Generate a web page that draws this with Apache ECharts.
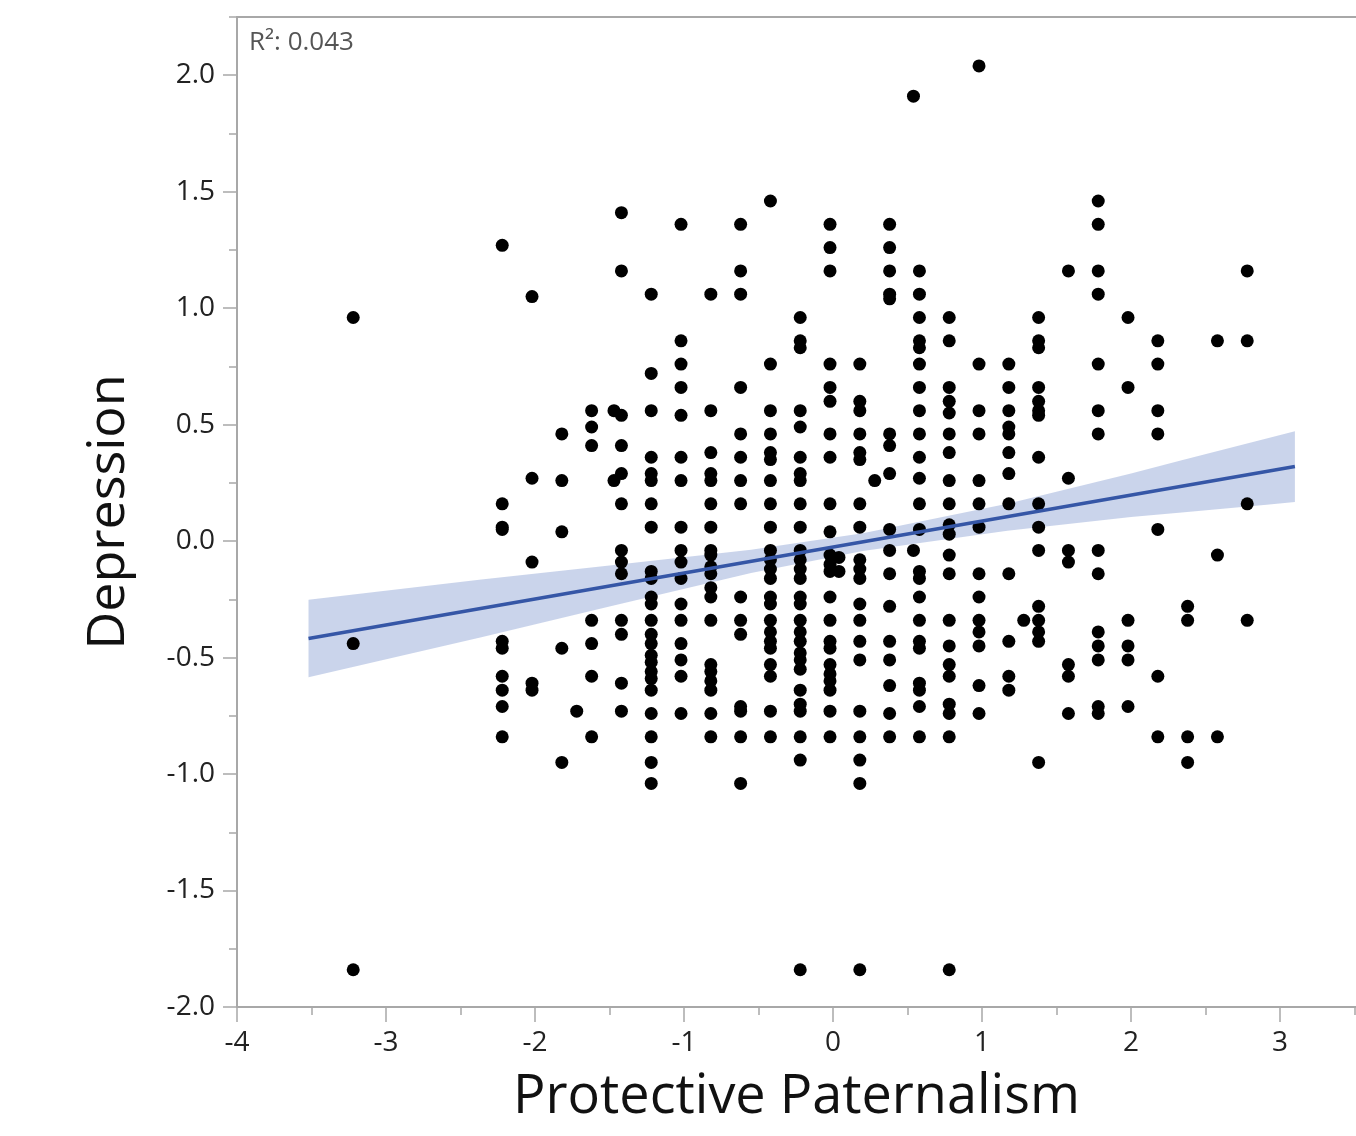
<!DOCTYPE html>
<html>
<head>
<meta charset="utf-8">
<script src="https://cdn.jsdelivr.net/npm/echarts@6/dist/echarts.min.js"></script>
<style>
  html, body { margin: 0; padding: 0; background: #fff; }
  #main { width: 1356px; height: 1136px; }
</style>
</head>
<body>
<div id="main"></div>
<script>
// values
var columnX = [-3.22, -2.22, -2.02, -1.82, -1.62, -1.42, -1.22, -1.02, -0.82, -0.62, -0.42, -0.22, -0.02,
  0.18, 0.38, 0.58, 0.78, 0.98, 1.18, 1.38, 1.58, 1.78, 1.98, 2.18, 2.38, 2.58, 2.78];

var columnDepression = [
  [0.96, -0.44, -1.84],
  [1.27, 0.16, 0.06, 0.05, -0.43, -0.46, -0.58, -0.64, -0.71, -0.84],
  [1.05, 0.27, -0.09, -0.61, -0.64],
  [0.46, 0.26, 0.04, -0.46, -0.95],
  [0.56, 0.49, 0.41, -0.34, -0.44, -0.58, -0.84],
  [1.41, 1.16, 0.54, 0.41, 0.29, 0.16, -0.04, -0.09, -0.14, -0.34, -0.40, -0.61, -0.73],
  [1.06, 0.72, 0.56, 0.36, 0.29, 0.26, 0.16, 0.06, -0.13, -0.16, -0.24, -0.27, -0.34, -0.40, -0.44, -0.49, -0.52, -0.56, -0.59, -0.64, -0.74, -0.84, -0.95, -1.04],
  [1.36, 0.86, 0.76, 0.66, 0.54, 0.36, 0.26, 0.06, -0.04, -0.09, -0.16, -0.27, -0.34, -0.44, -0.51, -0.58, -0.74],
  [1.06, 0.56, 0.38, 0.29, 0.26, 0.16, 0.06, -0.04, -0.06, -0.11, -0.14, -0.20, -0.24, -0.34, -0.53, -0.56, -0.60, -0.64, -0.74, -0.84],
  [1.36, 1.16, 1.06, 0.66, 0.46, 0.36, 0.26, 0.16, -0.24, -0.34, -0.40, -0.71, -0.73, -0.84, -1.04],
  [1.46, 0.76, 0.56, 0.46, 0.38, 0.35, 0.26, 0.16, 0.06, -0.04, -0.08, -0.12, -0.16, -0.24, -0.27, -0.34, -0.39, -0.43, -0.46, -0.53, -0.58, -0.73, -0.84],
  [0.96, 0.86, 0.83, 0.56, 0.49, 0.36, 0.29, 0.26, 0.16, 0.06, -0.04, -0.08, -0.12, -0.16, -0.24, -0.27, -0.34, -0.39, -0.43, -0.48, -0.51, -0.55, -0.64, -0.70, -0.73, -0.84, -0.94, -1.84],
  [1.36, 1.26, 1.16, 0.76, 0.66, 0.60, 0.46, 0.36, 0.16, 0.04, -0.06, -0.10, -0.13, -0.24, -0.34, -0.43, -0.46, -0.53, -0.57, -0.60, -0.64, -0.73, -0.84],
  [0.76, 0.60, 0.56, 0.46, 0.38, 0.35, 0.16, 0.06, -0.08, -0.12, -0.16, -0.27, -0.34, -0.43, -0.51, -0.73, -0.84, -0.94, -1.04, -1.84],
  [1.36, 1.26, 1.16, 1.06, 1.04, 0.46, 0.41, 0.29, 0.05, -0.04, -0.14, -0.28, -0.43, -0.51, -0.62, -0.74, -0.84],
  [1.16, 1.06, 0.96, 0.86, 0.83, 0.76, 0.66, 0.56, 0.46, 0.36, 0.27, 0.16, 0.05, -0.13, -0.16, -0.24, -0.34, -0.43, -0.46, -0.61, -0.64, -0.71, -0.84],
  [0.96, 0.86, 0.66, 0.60, 0.55, 0.46, 0.38, 0.26, 0.16, 0.07, 0.03, -0.06, -0.14, -0.34, -0.45, -0.53, -0.58, -0.70, -0.74, -0.84, -1.84],
  [2.04, 0.76, 0.56, 0.46, 0.26, 0.16, 0.06, -0.14, -0.24, -0.34, -0.39, -0.45, -0.62, -0.74],
  [0.76, 0.66, 0.56, 0.49, 0.46, 0.38, 0.29, 0.16, -0.14, -0.43, -0.58, -0.64],
  [0.96, 0.86, 0.83, 0.66, 0.60, 0.56, 0.54, 0.36, 0.16, 0.06, -0.04, -0.28, -0.34, -0.39, -0.43, -0.95],
  [1.16, 0.27, -0.04, -0.09, -0.53, -0.58, -0.74],
  [1.46, 1.36, 1.16, 1.06, 0.76, 0.56, 0.46, -0.04, -0.14, -0.39, -0.45, -0.51, -0.71, -0.74],
  [0.96, 0.66, -0.34, -0.45, -0.51, -0.71],
  [0.86, 0.76, 0.56, 0.46, 0.05, -0.58, -0.84],
  [-0.28, -0.34, -0.84, -0.95],
  [0.86, -0.06, -0.84],
  [1.16, 0.86, 0.16, -0.34]
];

// points that sit between the columns
var extraX = [-1.47, -1.47, -1.72, 0.04, 0.04, 0.28, 0.54, 0.54, 1.28];
var extraY = [0.56, 0.26, -0.73, -0.07, -0.13, 0.26, 1.91, -0.04, -0.34];

// fit line and its confidence band
var fitX = [-3.52, 3.10];
var fitY = [-0.418, 0.32];
var bandX = [-3.52, -2.36, -1.5, -0.55, 0.2, 1.17, 2.0, 2.34, 2.91, 3.10];
var bandUpper = [-0.252, -0.165, -0.105, -0.037, 0.034, 0.16, 0.29, 0.347, 0.44, 0.472];
var bandLower = [-0.584, -0.413, -0.281, -0.137, -0.042, 0.044, 0.104, 0.123, 0.156, 0.168];

var xMajorTicks = [-4, -3, -2, -1, 0, 1, 2, 3];
var xMinorTicks = [-3.5, -2.5, -1.5, -0.5, 0.5, 1.5, 2.5, 3.5];
var yMajorTicks = [-2, -1.5, -1, -0.5, 0, 0.5, 1, 1.5, 2];
var yMinorTicks = [-1.75, -1.25, -0.75, -0.25, 0.25, 0.75, 1.25, 1.75, 2.25];

var points = [];
columnX.forEach(function (x, i) {
  columnDepression[i].forEach(function (y) { points.push([x, y]); });
});
extraX.forEach(function (x, i) { points.push([x, extraY[i]]); });

var axisGray = '#a8a8a8';
var labelFont = '"Open Sans", "Noto Sans", sans-serif';

function renderBand(params, api) {
  var pts = [];
  for (var i = 0; i < bandX.length; i++) pts.push(api.coord([bandX[i], bandUpper[i]]));
  for (var j = bandX.length - 1; j >= 0; j--) pts.push(api.coord([bandX[j], bandLower[j]]));
  return {
    type: 'polygon',
    shape: { points: pts },
    style: { fill: 'rgba(60, 95, 180, 0.27)' }
  };
}

var myChart = echarts.init(document.getElementById('main'));
myChart.setOption({
  animation: false,
  backgroundColor: '#fff',
  grid: { left: 237, right: 0, top: 17, bottom: 129 },
  graphic: [{
    type: 'text',
    left: 249,
    top: 30,
    style: { text: 'R²: 0.043', fontSize: 26, fontFamily: labelFont, fill: '#555' }
  }],
  xAxis: [
    {
      type: 'value', position: 'bottom', min: -4, max: 3.51, interval: 1,
      name: 'Protective Paternalism', nameLocation: 'middle', nameGap: 64,
      nameTextStyle: { fontSize: 54, fontFamily: labelFont, color: '#111' },
      axisLine: { show: true, onZero: false, lineStyle: { color: axisGray, width: 2 } },
      axisTick: { show: true, customValues: xMajorTicks, length: 15, lineStyle: { color: axisGray, width: 1.5 } },
      axisLabel: { customValues: xMajorTicks, margin: 22, fontSize: 28, fontFamily: labelFont, color: '#222' },
      splitLine: { show: false }
    },
    {
      type: 'value', position: 'bottom', min: -4, max: 3.51,
      axisLine: { show: false, onZero: false },
      axisTick: { show: true, customValues: xMinorTicks, length: 8, lineStyle: { color: axisGray, width: 1.5 } },
      axisLabel: { show: false },
      splitLine: { show: false }
    },
    {
      type: 'value', position: 'top', min: -4, max: 3.51,
      axisLine: { show: true, onZero: false, lineStyle: { color: axisGray, width: 2 } },
      axisTick: { show: false },
      axisLabel: { show: false },
      splitLine: { show: false }
    }
  ],
  yAxis: [
    {
      type: 'value', position: 'left', min: -2, max: 2.25, interval: 0.5,
      name: 'Depression', nameLocation: 'middle', nameGap: 102,
      nameTextStyle: { fontSize: 52, fontFamily: labelFont, color: '#111' },
      axisLine: { show: true, onZero: false, lineStyle: { color: axisGray, width: 2 } },
      axisTick: { show: true, customValues: yMajorTicks, length: 14, lineStyle: { color: axisGray, width: 1.5 } },
      axisLabel: {
        customValues: yMajorTicks, margin: 22, fontSize: 28, fontFamily: labelFont, color: '#222',
        formatter: function (v) { return v.toFixed(1); }
      },
      splitLine: { show: false }
    },
    {
      type: 'value', position: 'left', min: -2, max: 2.25,
      axisLine: { show: false, onZero: false },
      axisTick: { show: true, customValues: yMinorTicks, length: 8, lineStyle: { color: axisGray, width: 1.5 } },
      axisLabel: { show: false },
      splitLine: { show: false }
    }
  ],
  series: [
    {
      name: 'points',
      type: 'scatter',
      symbolSize: 13,
      itemStyle: { color: '#000', opacity: 1 },
      data: points
    },
    {
      name: 'band',
      type: 'custom',
      renderItem: renderBand,
      clip: true,
      silent: true,
      data: [0]
    },
    {
      name: 'fit',
      type: 'line',
      symbol: 'none',
      lineStyle: { color: '#3556a6', width: 3.5 },
      data: fitX.map(function (x, i) { return [x, fitY[i]]; })
    }
  ]
});
</script>
</body>
</html>
